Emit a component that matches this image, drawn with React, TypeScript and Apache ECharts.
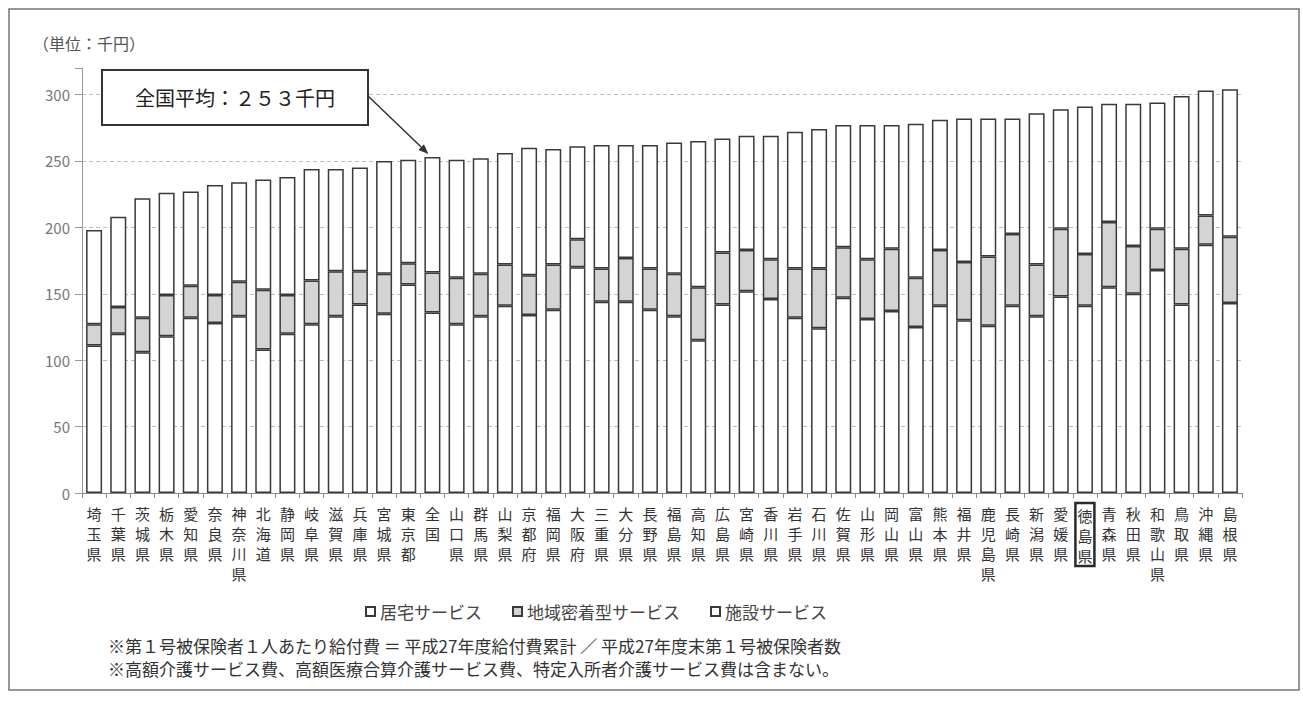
import React, { useEffect, useRef } from "react";
import * as echarts from "echarts";

// 第1号被保険者1人あたり給付費（平成27年度、単位：千円）
const categories = [
  "埼玉県", "千葉県", "茨城県", "栃木県", "愛知県", "奈良県", "神奈川県", "北海道",
  "静岡県", "岐阜県", "滋賀県", "兵庫県", "宮城県", "東京都", "全国", "山口県",
  "群馬県", "山梨県", "京都府", "福岡県", "大阪府", "三重県", "大分県", "長野県",
  "福島県", "高知県", "広島県", "宮崎県", "香川県", "岩手県", "石川県", "佐賀県",
  "山形県", "岡山県", "富山県", "熊本県", "福井県", "鹿児島県", "長崎県", "新潟県",
  "愛媛県", "徳島県", "青森県", "秋田県", "和歌山県", "鳥取県", "沖縄県", "島根県",
];

const homeCare = [
  111, 120, 106, 118, 132, 128, 133, 108, 120, 127, 133, 142, 135, 157, 136, 127,
  133, 141, 134, 138, 170, 144, 144, 138, 133, 115, 142, 152, 146, 132, 124, 147,
  131, 137, 125, 141, 130, 126, 141, 133, 148, 141, 155, 150, 168, 142, 187, 143,
];

const communityCare = [
  16, 20, 26, 31, 24, 21, 26, 45, 29, 33, 34, 25, 30, 16, 30, 35,
  32, 31, 30, 34, 21, 25, 33, 31, 32, 40, 39, 31, 30, 37, 45, 38,
  45, 47, 37, 42, 44, 52, 54, 39, 51, 39, 49, 36, 31, 42, 22, 50,
];

const facilityCare = [
  71, 68, 90, 77, 71, 83, 75, 83, 89, 84, 77, 78, 85, 78, 87, 89,
  87, 84, 96, 87, 70, 93, 85, 93, 99, 110, 86, 86, 93, 103, 105, 92,
  101, 93, 116, 98, 108, 104, 87, 114, 90, 111, 89, 107, 95, 115, 94, 111,
];

const seriesNames = ["居宅サービス", "地域密着型サービス", "施設サービス"];
const nationalLabel = "全国";
const nationalAverage = 253;
const highlighted = "徳島県";
const yMax = 320;
const yInterval = 50;
const yLabelMax = 300;
const unitText = "（単位：千円）";
const notes = [
  "※第１号被保険者１人あたり給付費 ＝ 平成27年度給付費累計 ／ 平成27年度末第１号被保険者数",
  "※高額介護サービス費、高額医療合算介護サービス費、特定入所者介護サービス費は含まない。",
];

const FONT = '"Noto Sans CJK JP", "Noto Sans", sans-serif';
const INK = "#333";

const toFullWidth = (n: number) =>
  String(n).replace(/[0-9]/g, (d) => String.fromCharCode(d.charCodeAt(0) + 0xfee0));

export default function App() {
  const ref = useRef<HTMLDivElement>(null);

  useEffect(() => {
    if (!ref.current) return;
    const chart = echarts.init(ref.current, undefined, { renderer: "svg" });

    const barItem = (fill: string) => ({
      color: fill,
      borderColor: "#3a3a3a",
      borderWidth: 1.5,
    });

    const xData = categories.map((c) =>
      c === highlighted
        ? {
            value: c,
            textStyle: {
              borderColor: "#2a2a2a",
              borderWidth: 2.5,
              padding: [2, 2, 1, 2],
            },
          }
        : c
    );

    chart.setOption({
      animation: false,
      backgroundColor: "#fff",
      textStyle: { fontFamily: FONT },
      grid: { left: 82, right: 61, top: 68, bottom: 209, containLabel: false },
      legend: {
        left: 360,
        top: 598,
        itemGap: 30,
        itemWidth: 9,
        itemHeight: 9,
        icon: "rect",
        textStyle: { fontSize: 17, color: "#444", fontFamily: FONT },
        data: seriesNames,
      },
      xAxis: {
        type: "category",
        data: xData,
        axisLine: { lineStyle: { color: "#888", width: 1 } },
        axisTick: { show: true, length: 5, lineStyle: { color: "#888" } },
        axisLabel: {
          interval: 0,
          margin: 10,
          fontSize: 15,
          lineHeight: 20,
          color: INK,
          fontFamily: FONT,
          formatter: (v: string) => v.split("").join("\n"),
        },
      },
      yAxis: {
        type: "value",
        min: 0,
        max: yMax,
        interval: yInterval,
        axisLine: { show: true, lineStyle: { color: "#999" } },
        axisTick: { show: true, length: 7, lineStyle: { color: "#999" } },
        axisLabel: {
          margin: 12,
          fontSize: 15,
          color: "#777",
          fontFamily: FONT,
          formatter: (v: number) => (v > yLabelMax ? "" : String(v)),
        },
        splitLine: {
          show: true,
          showMaxLine: false,
          lineStyle: { color: "#bdbdbd", type: [4, 3], width: 1 },
        },
      },
      series: [
        { name: seriesNames[0], data: homeCare, fill: "#ffffff" },
        { name: seriesNames[1], data: communityCare, fill: "#d4d4d4" },
        { name: seriesNames[2], data: facilityCare, fill: "#ffffff" },
      ].map((s) => ({
        name: s.name,
        type: "bar",
        stack: "total",
        barWidth: 16,
        data: s.data,
        itemStyle: barItem(s.fill),
      })),
    });

    // 全国平均の吹き出しと矢印
    const idx = categories.indexOf(nationalLabel);
    const tip = chart.convertToPixel({ gridIndex: 0 }, [idx, nationalAverage]) as number[];
    const box = { x: 102, y: 70, w: 266, h: 55 };
    const start = [box.x + box.w, box.y + 26];
    const end = [tip[0] - 4, tip[1] - 3];
    const dx = end[0] - start[0];
    const dy = end[1] - start[1];
    const len = Math.hypot(dx, dy);
    const ux = dx / len;
    const uy = dy / len;
    const head = 10;
    const half = 4;
    const bx = end[0] - ux * head;
    const by = end[1] - uy * head;

    chart.setOption({
      graphic: [
        {
          type: "rect",
          shape: { x: 9, y: 9, width: 1290, height: 681 },
          style: { fill: "none", stroke: "#777", lineWidth: 1.5 },
          silent: true,
        },
        {
          type: "text",
          left: 33,
          top: 35,
          style: { text: unitText, fill: "#555", font: `16px ${FONT}` },
        },
        ...notes.map((t, i) => ({
          type: "text",
          left: 108,
          top: 637 + i * 23,
          style: { text: t, fill: INK, font: `17px ${FONT}` },
        })),
        {
          type: "rect",
          shape: { x: box.x, y: box.y, width: box.w, height: box.h },
          style: { fill: "#fff", stroke: "#333", lineWidth: 2 },
          z: 10,
        },
        {
          type: "text",
          x: box.x + box.w / 2,
          y: box.y + box.h / 2,
          style: {
            text: `全国平均：${toFullWidth(nationalAverage)}千円`,
            fill: "#222",
            font: `20px ${FONT}`,
            align: "center",
            verticalAlign: "middle",
          },
          z: 11,
        },
        {
          type: "line",
          shape: { x1: start[0], y1: start[1], x2: bx, y2: by },
          style: { stroke: "#333", lineWidth: 1.5 },
          z: 10,
        },
        {
          type: "polygon",
          shape: {
            points: [
              [end[0], end[1]],
              [bx - uy * half, by + ux * half],
              [bx + uy * half, by - ux * half],
            ],
          },
          style: { fill: "#333" },
          z: 10,
        },
      ],
    });

    return () => chart.dispose();
  }, []);

  return (
    <div
      ref={ref}
      style={{ position: "fixed", left: 0, top: 0, width: 1303, height: 702 }}
    />
  );
}
